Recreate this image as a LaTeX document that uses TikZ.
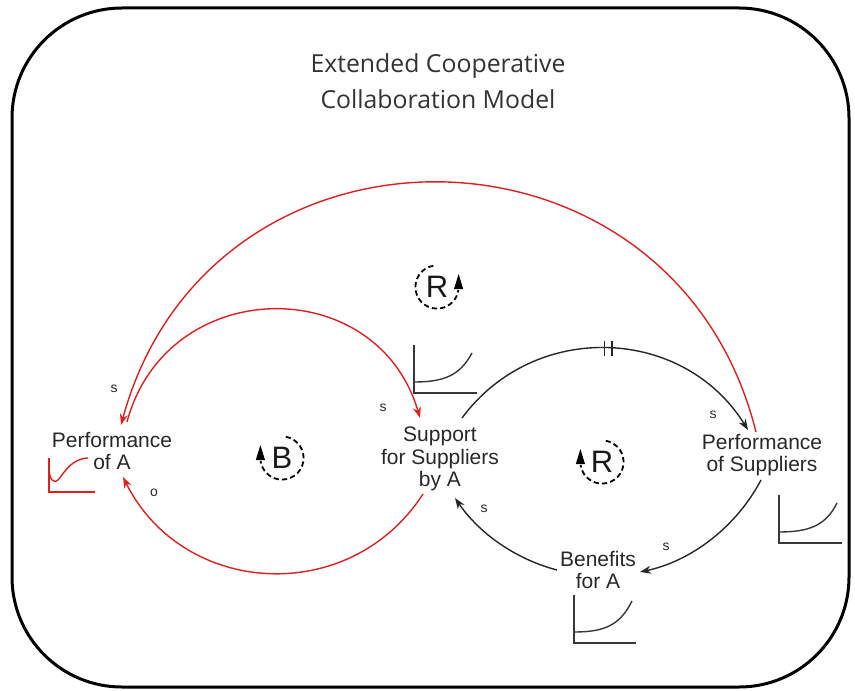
\documentclass[tikz,border=0pt]{standalone}
\usepackage{fontspec}
\setmainfont{Liberation Sans}
\newfontfamily\titlefont{Open Sans}
\usetikzlibrary{arrows.meta,calc}
\definecolor{cldred}{RGB}{222,32,32}
\definecolor{txtgray}{RGB}{40,40,40}
\definecolor{icongray}{RGB}{55,55,55}
\begin{document}
\begin{tikzpicture}[x=0.5pt,y=-0.5pt,
  var/.style={align=center, inner sep=0pt, font=\fontsize{10.5}{11.2}\selectfont, text=txtgray},
  pol/.style={inner sep=0pt, font=\fontsize{7}{8}\selectfont, text=txtgray},
  redlink/.style={draw=cldred, line width=0.7pt},
  blacklink/.style={draw=black!85, line width=0.7pt},
  tipend/.style={-{Stealth[length=5.5pt,width=4pt]}},
  loopsym/.style={line width=0.9pt, dash pattern=on 2.6pt off 1.6pt},
  looptip/.style={fill=black, draw=none},
  looplet/.style={inner sep=0pt, font=\fontsize{15.5}{16}\selectfont, text=black!90},
  icon/.style={draw=icongray, line width=0.7pt},
  redicon/.style={draw=cldred, line width=0.7pt},
  delaymk/.style={inner sep=0pt, minimum width=3pt, minimum height=7pt}
]
\useasboundingbox (0,0) rectangle (855,690);
% frame
\draw[line width=1.5pt, rounded corners=55pt] (12,8) rectangle (849,687);
% title
\node[align=center, inner sep=0pt, font=\titlefont\fontsize{12.4}{18}\selectfont, text=black!80] (title) at (438,81) {Extended Cooperative\\Collaboration Model};
% variables
\node[var] (pa) at (112,451) {Performance\\of A};
\node[var] (ss) at (440,459) {Support\\for Suppliers\\by A};
\node[var] (psu) at (762,455) {Performance\\of Suppliers};
\node[var] (ben) at (598,570) {Benefits\\for A};
% red links
\draw[redlink, tipend] ($(psu.center)+(-6,-23)$) .. controls +(-82,-328.5) and +(89,-327) .. ($(pa.center)+(9,-26)$);
\draw[redlink, tipend] ($(pa.center)+(15,-29)$) .. controls +(39.5,-147.6) and +(-43,-147) .. ($(ss.center)+(-20,-41)$);
\draw[redlink, tipend] ($(ss.center)+(-17,35)$) .. controls +(-73,113) and +(60,120) .. ($(pa.center)+(11,26)$);
% black links
\draw[blacklink, tipend] ($(ss.center)+(22,-41)$) .. controls +(72.6,-98.2) and +(-64.3,-103.8) .. node[pos=0.5, delaymk] (dm) {} ($(psu.center)+(-14,-25)$);
\draw[line width=0.7pt, black!85] (dm.north west) -- (dm.south west) (dm.north east) -- (dm.south east);
\draw[blacklink, tipend] ($(psu.center)+(-1,25)$) .. controls +(-24.7,46.8) and +(51.7,-11.1) .. ($(ben.center)+(42,2)$);
\draw[blacklink, tipend] ($(ben.center)+(-41,0)$) .. controls +(-41.5,-10.9) and +(24.3,35.4) .. ($(ss.center)+(15,39)$);
% polarity labels
\node[pol] (s1) at (114,389) {s};
\node[pol] (s2) at (383,408) {s};
\node[pol] (o1) at (154,493) {o};
\node[pol] (s3) at (713,415) {s};
\node[pol] (s4) at (666,547) {s};
\node[pol] (s5) at (484,509) {s};
% loop symbols
\node[looplet] (rtop) at (437,287) {R};
\draw[loopsym] ([shift={(100:10.8pt)}]rtop.center) arc[start angle=100, end angle=352, radius=10.8pt];
\fill[looptip] ([shift={(10.8pt-2.3pt,-1pt)}]rtop.center) -- ++(4.6pt,0) -- ++(-2.3pt,7.5pt) -- cycle;
\node[looplet] (bl) at (282,458) {B};
\draw[loopsym] ([shift={(80:10.8pt)}]bl.center) arc[start angle=80, end angle=-172, radius=10.8pt];
\fill[looptip] ([shift={(-10.8pt-2.3pt,-1pt)}]bl.center) -- ++(4.6pt,0) -- ++(-2.3pt,7.5pt) -- cycle;
\node[looplet] (rright) at (602,462) {R};
\draw[loopsym] ([shift={(80:10.8pt)}]rright.center) arc[start angle=80, end angle=-172, radius=10.8pt];
\fill[looptip] ([shift={(-10.8pt-2.3pt,-1pt)}]rright.center) -- ++(4.6pt,0) -- ++(-2.3pt,7.5pt) -- cycle;
% behaviour-over-time icons
\draw[icon] (414,345) -- (414,393) -- (477,393);
\draw[icon] (414,382) .. controls (445,382) and (460,375) .. (472,353);
\draw[icon] (779,495) -- (779,543) -- (842,543);
\draw[icon] (779,532) .. controls (810,532) and (826,525) .. (837,503);
\draw[icon] (574,595) -- (574,643) -- (636,643);
\draw[icon] (574,632) .. controls (605,632) and (620,625) .. (632,601);
\draw[redicon] (49,458) -- (49,492) -- (95,492);
\draw[redicon] (49,470) .. controls (50,479) and (53,484) .. (58,480) .. controls (66,470) and (72,459) .. (88,458);
\end{tikzpicture}
\end{document}
